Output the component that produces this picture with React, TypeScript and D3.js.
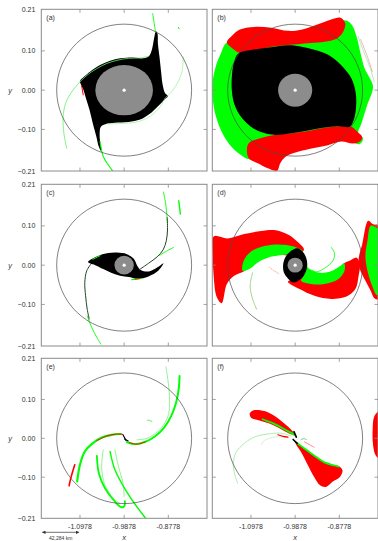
import React from "react";
import * as d3 from "d3";

type Pt = [number, number];

// Primary body position and plotted half-widths (data units)
const X0 = -0.9878;
const HALF_X = 0.2063;
const HALF_Y = 0.2058;
const CIRCLE_R = 0.168;

const xTickValues = [-1.0978, -0.9878, -0.8778];
const yTickValues = [0.1, 0, -0.1];
const yLabelValues = [HALF_Y, 0.1, 0, -0.1, -HALF_Y];
const scaleBarLabel = "42,284 km";

// ---- panel (a) ----
const aBlack: Pt[] = [
  [-0.110, 0.023], [-0.098, 0.036], [-0.085, 0.047], [-0.060, 0.064], [-0.035, 0.075], [-0.010, 0.081],
  [0.023, 0.083], [0.048, 0.081], [0.062, 0.087], [0.069, 0.103], [0.073, 0.123], [0.076, 0.140],
  [0.079, 0.150], [0.083, 0.144], [0.084, 0.119], [0.088, 0.085], [0.092, 0.047], [0.096, 0.013],
  [0.102, -0.008], [0.109, -0.015], [0.100, -0.025], [0.083, -0.042], [0.063, -0.061], [0.040, -0.075],
  [0.011, -0.081], [-0.023, -0.083], [-0.045, -0.086], [-0.058, -0.093], [-0.061, -0.110], [-0.060, -0.131],
  [-0.056, -0.157], [-0.063, -0.144], [-0.069, -0.119], [-0.078, -0.085], [-0.086, -0.051], [-0.095, -0.021],
  [-0.102, 0.002], [-0.108, 0.015],
];
const aGreenLeft: Pt[] = [
  [-0.143, -0.148], [-0.150, -0.110], [-0.152, -0.068], [-0.146, -0.034], [-0.133, -0.008], [-0.117, 0.013],
  [-0.095, 0.036], [-0.068, 0.055], [-0.043, 0.068], [-0.018, 0.076], [0.011, 0.081], [0.040, 0.082], [0.059, 0.086],
];
const aGreenTop: Pt[] = [[0.071, 0.195], [0.075, 0.169], [0.078, 0.148]];
const aGreenRight: Pt[] = [
  [0.147, 0.085], [0.144, 0.047], [0.132, 0.017], [0.115, -0.008], [0.103, -0.019], [0.090, -0.042],
  [0.065, -0.066], [0.032, -0.081], [-0.010, -0.085], [-0.043, -0.086],
];
const aGreenBottom: Pt[] = [[-0.060, -0.131], [-0.052, -0.169], [-0.039, -0.191], [-0.029, -0.205]];
const aRedEdge: Pt[] = [[-0.106, 0.012], [-0.102, -0.012]];
const aGreenDot: Pt[] = [[0.135, 0.160], [0.137, 0.156]];

// ---- panel (b) ----
const bGreen: Pt[] = [
  [-0.168, 0.123], [-0.185, 0.093], [-0.198, 0.059], [-0.206, 0.017], [-0.205, -0.025], [-0.197, -0.068],
  [-0.183, -0.106], [-0.162, -0.140], [-0.135, -0.165], [-0.114, -0.176], [-0.018, -0.144], [0.107, -0.119],
  [0.161, -0.137], [0.169, -0.123], [0.157, -0.110], [0.165, -0.085], [0.178, -0.042], [0.194, 0.008],
  [0.186, 0.030], [0.173, 0.055], [0.163, 0.093], [0.153, 0.136], [0.140, 0.168], [0.123, 0.178], [-0.018, 0.136],
];
const bRedTop: Pt[] = [
  [-0.170, 0.122], [-0.156, 0.140], [-0.139, 0.154], [-0.102, 0.161], [-0.060, 0.159], [-0.018, 0.151],
  [0.015, 0.154], [0.057, 0.168], [0.090, 0.180], [0.111, 0.185], [0.119, 0.180], [0.125, 0.169],
  [0.123, 0.157], [0.117, 0.144], [0.103, 0.131], [0.073, 0.123], [0.040, 0.120], [0.007, 0.117],
  [-0.027, 0.114], [-0.060, 0.110], [-0.093, 0.103], [-0.118, 0.097], [-0.139, 0.095], [-0.156, 0.106],
];
const bRedBottom: Pt[] = [
  [-0.117, -0.137], [-0.089, -0.123], [-0.052, -0.114], [-0.010, -0.110], [0.032, -0.104], [0.073, -0.096],
  [0.111, -0.092], [0.140, -0.093], [0.157, -0.108], [0.167, -0.120], [0.161, -0.131], [0.144, -0.136],
  [0.115, -0.131], [0.082, -0.140], [0.044, -0.148], [0.007, -0.157], [-0.023, -0.169], [-0.037, -0.186],
  [-0.045, -0.205], [-0.068, -0.199], [-0.093, -0.186], [-0.116, -0.173],
];
const bBlack: Pt[] = [
  [-0.143, 0.092], [-0.123, 0.100], [-0.093, 0.105], [-0.060, 0.109], [-0.018, 0.114], [0.019, 0.110],
  [0.057, 0.100], [0.090, 0.085], [0.119, 0.059], [0.140, 0.030], [0.151, -0.008], [0.151, -0.051],
  [0.144, -0.081], [0.136, -0.093], [0.107, -0.092], [0.069, -0.096], [0.032, -0.103], [-0.010, -0.110],
  [-0.048, -0.114], [-0.081, -0.108], [-0.110, -0.093], [-0.135, -0.068], [-0.152, -0.034], [-0.158, 0.004],
  [-0.157, 0.042], [-0.152, 0.072],
];
const bStreak1: Pt[] = [[0.157, 0.136], [0.169, 0.102], [0.186, 0.059], [0.197, 0.021]];
const bStreak2: Pt[] = [[0.163, 0.129], [0.180, 0.085], [0.192, 0.047]];

// ---- panel (c) ----
const cBlack: Pt[] = [
  [-0.090, 0.008], [-0.068, 0.022], [-0.043, 0.030], [-0.018, 0.032], [0.007, 0.028], [0.024, 0.016],
  [0.033, -0.002], [0.042, -0.013], [0.062, -0.016], [0.082, -0.006], [0.098, 0.005], [0.084, -0.015],
  [0.062, -0.028], [0.036, -0.035], [0.012, -0.030], [-0.010, -0.027], [-0.031, -0.020], [-0.052, -0.010],
  [-0.072, 0.000], [-0.084, 0.004],
];
const cArmTop: Pt[] = [[0.107, 0.121], [0.108, 0.092], [0.105, 0.062], [0.097, 0.039], [0.082, 0.021], [0.061, 0.005], [0.040, -0.010]];
const cGreenTop: Pt[] = [[0.098, 0.186], [0.103, 0.159], [0.107, 0.121], [0.108, 0.108]];
const cArmBottom: Pt[] = [[-0.081, 0.005], [-0.093, -0.014], [-0.098, -0.044], [-0.096, -0.078], [-0.092, -0.112], [-0.087, -0.137]];
const cGreenBottom: Pt[] = [[-0.092, -0.129], [-0.081, -0.158], [-0.068, -0.184], [-0.058, -0.201]];
const cGreenBit1: Pt[] = [[-0.078, 0.015], [-0.060, 0.024]];
const cGreenBit2: Pt[] = [[0.019, -0.037], [0.044, -0.034]];
const cRedBit: Pt[] = [[0.027, -0.036], [0.040, -0.034]];
const cGreenBit3: Pt[] = [[0.088, 0.025], [0.106, 0.036], [0.123, 0.045]];
const cGreenBit4: Pt[] = [[0.136, 0.164], [0.138, 0.147], [0.140, 0.130]];

// ---- panel (d) ----
const dBlack: Pt[] = [
  [0.005, 0.043], [0.019, 0.034], [0.028, 0.017], [0.030, -0.002], [0.025, -0.020], [0.013, -0.036],
  [-0.005, -0.044], [-0.018, -0.034], [-0.028, -0.019], [-0.030, 0], [-0.025, 0.019], [-0.013, 0.034],
];
const dRedLeft: Pt[] = [
  [-0.203, 0.073], [-0.168, 0.068], [-0.127, 0.079], [-0.085, 0.087], [-0.048, 0.089], [-0.018, 0.078],
  [0.003, 0.062], [0.022, 0.039], [-0.002, 0.024], [-0.031, 0.026], [-0.068, 0.022], [-0.102, 0.008],
  [-0.125, -0.014], [-0.152, -0.027], [-0.170, -0.048], [-0.183, -0.097], [-0.195, -0.082], [-0.203, -0.027],
  [-0.205, 0.024],
];
const dGreenLeft: Pt[] = [
  [-0.131, -0.014], [-0.128, 0.011], [-0.114, 0.031], [-0.089, 0.045], [-0.056, 0.052], [-0.022, 0.051],
  [0.003, 0.045], [0.019, 0.036], [0.013, 0.025], [-0.010, 0.027], [-0.039, 0.025], [-0.068, 0.019],
  [-0.093, 0.007], [-0.114, -0.010],
];
const dRedRight: Pt[] = [
  [-0.018, -0.042], [0.011, -0.061], [0.048, -0.078], [0.090, -0.086], [0.128, -0.080], [0.150, -0.061],
  [0.158, -0.027], [0.161, 0.003], [0.153, 0.019], [0.136, 0.011], [0.122, 0.005], [0.111, -0.006],
  [0.086, -0.020], [0.057, -0.021], [0.036, -0.014], [0.019, -0.023], [-0.002, -0.036],
];
const dRedEdge: Pt[] = [
  [0.182, 0.113], [0.194, 0.104], [0.210, 0.100], [0.210, -0.086], [0.198, -0.085], [0.188, -0.065],
  [0.173, -0.036], [0.161, -0.010], [0.158, 0.015], [0.167, 0.053],
];
const dGreenEdge: Pt[] = [
  [0.188, 0.100], [0.180, 0.062], [0.175, 0.024], [0.180, -0.014], [0.192, -0.053], [0.203, -0.076],
  [0.210, -0.076], [0.210, 0.088], [0.198, 0.098],
];
const dGreenRight: Pt[] = [
  [0.023, 0.005], [0.036, -0.010], [0.057, -0.019], [0.086, -0.017], [0.111, -0.003], [0.122, 0.005],
  [0.123, -0.014], [0.107, -0.036], [0.073, -0.048], [0.040, -0.048], [0.015, -0.040], [0.023, -0.023],
];
const dStreak1: Pt[] = [[0.090, 0.045], [0.098, 0.031], [0.094, 0.011], [0.073, -0.008], [0.053, -0.017], [0.040, -0.012]];
const dStreak2: Pt[] = [[-0.106, -0.019], [-0.112, -0.053], [-0.106, -0.086], [-0.096, -0.112]];
const dRedSpeck: Pt[] = [[-0.064, -0.006], [-0.050, -0.016], [-0.040, -0.022]];

// ---- panel (e) ----
const eArcLeft: Pt[] = [[-0.117, -0.111], [-0.110, -0.068], [-0.098, -0.034], [-0.081, -0.015], [-0.056, 0.002], [-0.031, 0.009], [-0.008, 0.011]];
const eRedLeft: Pt[] = [[-0.068, -0.006], [-0.043, 0.006], [-0.018, 0.011], [-0.003, 0.010]];
const eArcRight: Pt[] = [[0.007, -0.010], [0.028, -0.015], [0.053, -0.009], [0.078, 0.006], [0.100, 0.028], [0.117, 0.057], [0.129, 0.090], [0.136, 0.128], [0.138, 0.160]];
const eRedRight: Pt[] = [[0.013, -0.011], [0.032, -0.015], [0.053, -0.009]];
const eThinTop: Pt[] = [[0.104, 0.184], [0.109, 0.150], [0.113, 0.107], [0.111, 0.064], [0.098, 0.034], [0.078, 0.013], [0.057, 0], [0.032, -0.004]];
const eHook: Pt[] = [[-0.068, -0.045], [-0.063, -0.090], [-0.048, -0.128], [-0.027, -0.158], [-0.008, -0.177], [0, -0.175], [0.002, -0.162]];
const eThin1: Pt[] = [[-0.052, -0.030], [-0.056, -0.073], [-0.048, -0.120], [-0.027, -0.154], [-0.010, -0.168]];
const eLong: Pt[] = [[-0.035, -0.034], [-0.023, -0.081], [0.003, -0.132], [0.028, -0.171], [0.053, -0.205]];
const eThin2: Pt[] = [[-0.023, -0.030], [-0.014, -0.073], [-0.003, -0.115], [0, -0.150]];
const eRedStroke: Pt[] = [[-0.123, -0.068], [-0.133, -0.103], [-0.137, -0.122]];
const eCore1: Pt[] = [[-0.003, 0.009], [0.005, -0.006]];
const eCore2: Pt[] = [[0.001, -0.002], [0.010, -0.007]];
const eBlob: Pt[] = [[0.057, 0.047], [0.064, 0.046], [0.069, 0.043]];

// ---- panel (f) ----
const fRedUpper: Pt[] = [
  [-0.113, 0.064], [-0.103, 0.072], [-0.077, 0.070], [-0.052, 0.058], [-0.027, 0.038], [-0.008, 0.020],
  [0, 0.008], [-0.014, 0.012], [-0.039, 0.026], [-0.064, 0.038], [-0.089, 0.046], [-0.109, 0.052],
];
const fGreenUpper: Pt[] = [[-0.081, 0.049], [-0.056, 0.039], [-0.031, 0.026], [-0.010, 0.014], [0, 0.008]];
const fRedLower: Pt[] = [
  [0, -0.009], [0.019, -0.023], [0.044, -0.043], [0.069, -0.060], [0.094, -0.068], [0.111, -0.073],
  [0.118, -0.083], [0.112, -0.099], [0.093, -0.112], [0.077, -0.125], [0.062, -0.121], [0.047, -0.099],
  [0.031, -0.068], [0.014, -0.034], [0.003, -0.017],
];
const fGreenLower: Pt[] = [[0.003, -0.011], [0.023, -0.026], [0.048, -0.045], [0.073, -0.062], [0.098, -0.070], [0.108, -0.073]];
const fRedEdge: Pt[] = [[0.210, 0.070], [0.197, 0.056], [0.193, 0.021], [0.194, -0.017], [0.200, -0.043], [0.210, -0.053]];
const fThinArc: Pt[] = [[-0.010, 0.006], [-0.035, 0.013], [-0.068, 0.011], [-0.102, 0.003], [-0.131, -0.017], [-0.148, -0.038], [-0.154, -0.068], [-0.149, -0.098], [-0.143, -0.115]];
const fThinInner: Pt[] = [[-0.018, 0.003], [-0.052, 0.003], [-0.077, -0.006], [-0.085, -0.017]];
const fRedBit1: Pt[] = [[-0.043, 0.009], [-0.030, 0.005], [-0.018, 0.003]];
const fRedBit2: Pt[] = [[0.023, -0.009], [0.035, -0.016], [0.047, -0.023]];
const fGreenBit: Pt[] = [[0.015, -0.003], [0.022, -0.001], [0.028, -0.003]];
const fCore1: Pt[] = [[-0.003, 0.017], [0.003, 0.003]];
const fCore2: Pt[] = [[-0.005, -0.003], [0.005, -0.013]];

type Layer = { kind: "area" | "line"; color: string; pts: Pt[]; w?: number; dash?: string };
type PanelDef = { label: string; col: number; row: number; layers: Layer[]; disk?: [number, number] };

const GREEN = "#00ff00";
const LIGHT = "#66ee66";
const RED = "#ff0000";
const BLACK = "#000000";

const panels: PanelDef[] = [
  {
    label: "(a)", col: 0, row: 0, disk: [0.0717, 0.064],
    layers: [
      { kind: "area", color: BLACK, pts: aBlack },
      { kind: "line", color: RED, pts: aRedEdge, w: 1 },
      { kind: "line", color: LIGHT, pts: aGreenLeft, w: 0.8 },
      { kind: "line", color: GREEN, pts: aGreenTop, w: 0.9 },
      { kind: "line", color: "#99ee99", pts: aGreenRight, w: 0.7 },
      { kind: "line", color: GREEN, pts: aGreenBottom, w: 1.1 },
      { kind: "line", color: GREEN, pts: aGreenDot, w: 1 },
    ],
  },
  {
    label: "(b)", col: 1, row: 0, disk: [0.0425, 0.042],
    layers: [
      { kind: "area", color: GREEN, pts: bGreen },
      { kind: "area", color: RED, pts: bRedTop },
      { kind: "area", color: RED, pts: bRedBottom },
      { kind: "area", color: BLACK, pts: bBlack },
      { kind: "line", color: "#88dd88", pts: bStreak1, w: 0.6 },
      { kind: "line", color: "#cc6666", pts: bStreak2, w: 0.5, dash: "1.5 1" },
    ],
  },
  {
    label: "(c)", col: 0, row: 1, disk: [0.024, 0.024],
    layers: [
      { kind: "line", color: GREEN, pts: cGreenTop, w: 0.9 },
      { kind: "line", color: GREEN, pts: cGreenBottom, w: 0.9 },
      { kind: "line", color: "#224422", pts: cArmTop, w: 1 },
      { kind: "line", color: "#224422", pts: cArmBottom, w: 1 },
      { kind: "area", color: BLACK, pts: cBlack },
      { kind: "line", color: GREEN, pts: cGreenBit1, w: 1 },
      { kind: "line", color: GREEN, pts: cGreenBit2, w: 1.2 },
      { kind: "line", color: RED, pts: cRedBit, w: 0.8 },
      { kind: "line", color: GREEN, pts: cGreenBit3, w: 0.9 },
      { kind: "line", color: GREEN, pts: cGreenBit4, w: 1.4 },
    ],
  },
  {
    label: "(d)", col: 1, row: 1, disk: [0.019, 0.019],
    layers: [
      { kind: "area", color: RED, pts: dRedLeft },
      { kind: "area", color: GREEN, pts: dGreenLeft },
      { kind: "area", color: RED, pts: dRedRight },
      { kind: "area", color: GREEN, pts: dGreenRight },
      { kind: "area", color: RED, pts: dRedEdge },
      { kind: "area", color: GREEN, pts: dGreenEdge },
      { kind: "line", color: GREEN, pts: dStreak1, w: 0.8 },
      { kind: "line", color: "#88cc66", pts: dStreak2, w: 0.8, dash: "1.5 0.8" },
      { kind: "line", color: "#ff6666", pts: dRedSpeck, w: 0.6, dash: "0.8 1.6" },
      { kind: "area", color: BLACK, pts: dBlack },
    ],
  },
  {
    label: "(e)", col: 0, row: 2,
    layers: [
      { kind: "line", color: LIGHT, pts: eThinTop, w: 0.7 },
      { kind: "line", color: LIGHT, pts: eThin1, w: 0.7 },
      { kind: "line", color: LIGHT, pts: eThin2, w: 0.7 },
      { kind: "line", color: GREEN, pts: eHook, w: 1.8 },
      { kind: "line", color: GREEN, pts: eLong, w: 1.4 },
      { kind: "line", color: GREEN, pts: eArcLeft, w: 2.2 },
      { kind: "line", color: RED, pts: eRedLeft, w: 0.9 },
      { kind: "line", color: GREEN, pts: eArcRight, w: 2 },
      { kind: "line", color: RED, pts: eRedRight, w: 0.9 },
      { kind: "line", color: RED, pts: eRedStroke, w: 1.6 },
      { kind: "line", color: BLACK, pts: eCore1, w: 1.1 },
      { kind: "line", color: BLACK, pts: eCore2, w: 1.1 },
      { kind: "line", color: "#99ee99", pts: eBlob, w: 1.2 },
    ],
  },
  {
    label: "(f)", col: 1, row: 2,
    layers: [
      { kind: "line", color: "#77dd77", pts: fThinArc, w: 0.6, dash: "1.2 0.8" },
      { kind: "line", color: "#99dd99", pts: fThinInner, w: 0.5, dash: "1 1" },
      { kind: "area", color: RED, pts: fRedUpper },
      { kind: "line", color: GREEN, pts: fGreenUpper, w: 1.8 },
      { kind: "area", color: RED, pts: fRedLower },
      { kind: "line", color: GREEN, pts: fGreenLower, w: 1.8 },
      { kind: "area", color: RED, pts: fRedEdge },
      { kind: "line", color: RED, pts: fRedBit1, w: 1.2 },
      { kind: "line", color: "#ff5555", pts: fRedBit2, w: 0.7 },
      { kind: "line", color: "#55cc55", pts: fGreenBit, w: 0.8 },
      { kind: "line", color: BLACK, pts: fCore1, w: 1.6 },
      { kind: "line", color: BLACK, pts: fCore2, w: 1.6 },
    ],
  },
];

const colLeft = [41.3, 212.3];
const colWidth = 165.7;
const rowTop = [9.3, 184.3, 358.3];
const rowHeight = [161.7, 161.7, 160];

const FONT = "'Liberation Sans', Arial, sans-serif";
const FRAME = "#8a8a8a";
const TEXT = "#333";
const fmt = d3.format(".2f");

function Panel({ p }: { p: PanelDef }) {
  const left = colLeft[p.col];
  const top = rowTop[p.row];
  const w = colWidth;
  const h = rowHeight[p.row];
  const x = d3.scaleLinear().domain([X0 - HALF_X, X0 + HALF_X]).range([left, left + w]);
  const y = d3.scaleLinear().domain([-HALF_Y, HALF_Y]).range([top + h, top]);
  const px = (pt: Pt) => x(X0 + pt[0]);
  const py = (pt: Pt) => y(pt[1]);
  const area = d3.line<Pt>().x(px).y(py).curve(d3.curveCatmullRomClosed.alpha(0.5));
  const line = d3.line<Pt>().x(px).y(py).curve(d3.curveCatmullRom.alpha(0.5));
  const clipId = `clip-${p.col}-${p.row}`;
  const cx = x(X0);
  const cy = y(0);
  const showY = p.col === 0;
  const showX = p.row === 2;
  return (
    <g>
      <defs>
        <clipPath id={clipId}>
          <rect x={left} y={top} width={w} height={h} />
        </clipPath>
      </defs>
      <g clipPath={`url(#${clipId})`}>
        {p.layers.map((l, i) =>
          l.kind === "area" ? (
            <path key={i} d={area(l.pts) || ""} fill={l.color} stroke="none" />
          ) : (
            <path key={i} d={line(l.pts) || ""} fill="none" stroke={l.color} strokeWidth={l.w ?? 1}
              strokeDasharray={l.dash} strokeLinecap="round" />
          )
        )}
        {p.disk && (
          <ellipse cx={cx} cy={cy} rx={x(X0 + p.disk[0]) - cx} ry={cy - y(p.disk[1])} fill="#8c8c8c" />
        )}
        {p.disk && <circle cx={cx} cy={cy} r={1.6} fill="#fff" />}
        <ellipse cx={cx} cy={cy} rx={x(X0 + CIRCLE_R) - cx} ry={cy - y(CIRCLE_R)} fill="none" stroke="#4a4a4a" strokeWidth={0.7} />
      </g>
      <rect x={left} y={top} width={w} height={h} fill="none" stroke={FRAME} strokeWidth={1} />
      {xTickValues.map((v) => (
        <g key={"xt" + v}>
          <line x1={x(v)} x2={x(v)} y1={top} y2={top + 3.5} stroke={FRAME} strokeWidth={0.8} />
          <line x1={x(v)} x2={x(v)} y1={top + h} y2={top + h - 3.5} stroke={FRAME} strokeWidth={0.8} />
        </g>
      ))}
      {yTickValues.map((v) => (
        <g key={"yt" + v}>
          <line x1={left} x2={left + 3.5} y1={y(v)} y2={y(v)} stroke={FRAME} strokeWidth={0.8} />
          <line x1={left + w} x2={left + w - 3.5} y1={y(v)} y2={y(v)} stroke={FRAME} strokeWidth={0.8} />
        </g>
      ))}
      <text x={left + 5} y={top + 11} fontSize={7} fontFamily={FONT} fill={TEXT}>{p.label}</text>
      {showY &&
        yLabelValues.map((v) => (
          <text key={"yl" + v} x={left - 6} y={y(v) + 2.5} fontSize={7} fontFamily={FONT} fill={TEXT} textAnchor="end">
            {fmt(v)}
          </text>
        ))}
      {showY && (
        <text x={10} y={top + h / 2 + 3} fontSize={7.5} fontFamily={FONT} fill={TEXT} fontStyle="italic" textAnchor="middle">y</text>
      )}
      {showX &&
        xTickValues.map((v) => (
          <text key={"xl" + v} x={x(v)} y={top + h + 11} fontSize={7} fontFamily={FONT} fill={TEXT} textAnchor="middle">
            {v.toFixed(4)}
          </text>
        ))}
      {showX && (
        <text x={cx} y={540} fontSize={7.5} fontFamily={FONT} fill={TEXT} fontStyle="italic" textAnchor="middle">x</text>
      )}
      {showX && p.col === 0 && (
        <g>
          <defs>
            <marker id="arr" viewBox="0 0 6 6" refX="5.5" refY="3" markerWidth="5" markerHeight="5" orient="auto-start-reverse">
              <path d="M0,0 L6,3 L0,6 z" fill="#333" />
            </marker>
          </defs>
          <line x1={x(X0 - HALF_X) + 1} x2={x(xTickValues[0]) - 1} y1={532.3} y2={532.3} stroke="#333" strokeWidth={0.7}
            markerStart="url(#arr)" markerEnd="url(#arr)" />
          <text x={(x(X0 - HALF_X) + x(xTickValues[0])) / 2} y={540} fontSize={5} fontFamily={FONT} fill={TEXT} textAnchor="middle">
            {scaleBarLabel}
          </text>
        </g>
      )}
    </g>
  );
}

export default function App() {
  return (
    <svg width={378} height={541} style={{ position: "absolute", left: 0, top: 0, background: "#fff" }}>
      <rect x={0} y={0} width={378} height={541} fill="#fff" />
      {panels.map((p) => (
        <Panel key={p.label} p={p} />
      ))}
    </svg>
  );
}
